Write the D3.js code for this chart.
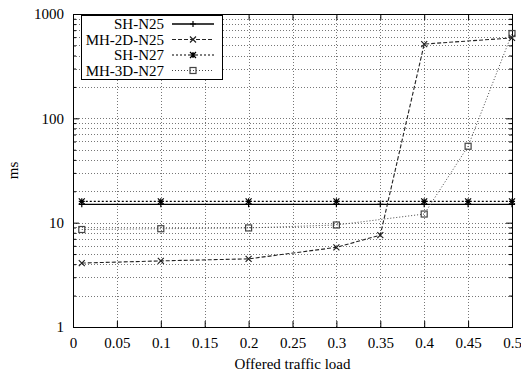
<!DOCTYPE html>
<html>
<head>
<meta charset="utf-8">
<script src="https://cdn.jsdelivr.net/npm/d3@7"></script>
<style>
  html, body { margin: 0; padding: 0; background: #fff; }
  svg { display: block; }
</style>
</head>
<body>
<svg id="chart" width="521" height="378"></svg>
<script>
// Offered load values (x) shared by all series
const loads = [0.01, 0.1, 0.2, 0.3, 0.35, 0.4, 0.45, 0.5];

// Delay in ms per configuration
const shN25    = [15.0, 15.0, 15.0, 15.0, 15.0, 15.0, 15.0, 15.0];
const mh2dN25  = [4.1, 4.3, 4.5, 5.8, 7.6, 515, null, 590];
const shN27    = [16.0, 16.0, 16.0, 16.0, null, 16.0, 16.0, 16.0];
const mh3dN27  = [8.6, 8.75, 8.9, 9.5, null, 12.1, 54, 650];

const seriesNames = ["SH-N25", "MH-2D-N25", "SH-N27", "MH-3D-N27"];
const xTicks = [0, 0.05, 0.1, 0.15, 0.2, 0.25, 0.3, 0.35, 0.4, 0.45, 0.5];
const yTicks = [1, 10, 100, 1000];

const FONT = "'Liberation Serif', 'Times New Roman', serif";
const FS = "15px";
const margin = { left: 73, right: 9, top: 14, bottom: 51 };
const W = 521, H = 378;
const x0 = margin.left, x1 = W - margin.right, y0 = margin.top, y1 = H - margin.bottom;

const svg = d3.select("#chart");
const x = d3.scaleLinear().domain([0, 0.5]).range([x0, x1]);
const y = d3.scaleLog().domain([1, 1000]).range([y1, y0]);

// minor log ticks
const minorY = [];
for (const d of [1, 10, 100]) for (let k = 2; k <= 9; k++) minorY.push(d * k);

// grid
const grid = svg.append("g").attr("stroke", "#777").attr("stroke-width", 1)
  .attr("stroke-dasharray", "1,2").attr("shape-rendering", "crispEdges");
xTicks.slice(1, -1).forEach(t => grid.append("line")
  .attr("x1", Math.round(x(t)) + 0.5).attr("x2", Math.round(x(t)) + 0.5)
  .attr("y1", y0).attr("y2", y1));
minorY.concat([10, 100]).forEach(t => grid.append("line")
  .attr("x1", x0).attr("x2", x1)
  .attr("y1", Math.round(y(t)) + 0.5).attr("y2", Math.round(y(t)) + 0.5));

// axes with inward ticks on all four sides
const axB = d3.axisBottom(x).tickValues(xTicks).tickSizeInner(-6).tickSizeOuter(0)
  .tickFormat(d => d3.format("")(d)).tickPadding(10);
const axT = d3.axisTop(x).tickValues(xTicks).tickSizeInner(-6).tickSizeOuter(0).tickFormat("");
const axL = d3.axisLeft(y).tickValues(yTicks).tickSizeInner(-6).tickSizeOuter(0)
  .tickFormat(d3.format("d")).tickPadding(9);
const axR = d3.axisRight(y).tickValues(yTicks).tickSizeInner(-6).tickSizeOuter(0).tickFormat("");
const axLm = d3.axisLeft(y).tickValues(minorY).tickSizeInner(-3).tickSizeOuter(0).tickFormat("");
const axRm = d3.axisRight(y).tickValues(minorY).tickSizeInner(-3).tickSizeOuter(0).tickFormat("");

function styleAxis(g) {
  g.select(".domain").remove();
  g.selectAll("line").attr("stroke", "#000");
  g.selectAll("text").style("font-size", FS).style("font-family", FONT).attr("fill", "#000");
}
svg.append("g").attr("transform", `translate(0,${y1})`).call(axB).call(styleAxis);
svg.append("g").attr("transform", `translate(0,${y0})`).call(axT).call(styleAxis);
svg.append("g").attr("transform", `translate(${x0},0)`).call(axL).call(styleAxis);
svg.append("g").attr("transform", `translate(${x1},0)`).call(axR).call(styleAxis);
svg.append("g").attr("transform", `translate(${x0},0)`).call(axLm).call(styleAxis);
svg.append("g").attr("transform", `translate(${x1},0)`).call(axRm).call(styleAxis);

// frame
svg.append("rect").attr("x", x0 + 0.5).attr("y", y0 + 0.5)
  .attr("width", x1 - x0).attr("height", y1 - y0)
  .attr("fill", "none").attr("stroke", "#000").attr("shape-rendering", "crispEdges");

// axis titles
svg.append("text").attr("x", (x0 + x1) / 2).attr("y", 369).attr("text-anchor", "middle")
  .style("font-family", FONT).style("font-size", FS).text("Offered traffic load");
svg.append("text").attr("transform", `translate(18,${(y0 + y1) / 2}) rotate(-90)`)
  .attr("text-anchor", "middle").style("font-family", FONT).style("font-size", FS).text("ms");

// marker glyphs
function marker(g, type, cx, cy, color) {
  const s = 3;
  const p = d3.path();
  if (type === "plus" || type === "star") {
    p.moveTo(cx - s, cy); p.lineTo(cx + s, cy);
    p.moveTo(cx, cy - s); p.lineTo(cx, cy + s);
  }
  if (type === "cross" || type === "star") {
    p.moveTo(cx - s, cy - s); p.lineTo(cx + s, cy + s);
    p.moveTo(cx - s, cy + s); p.lineTo(cx + s, cy - s);
  }
  if (type === "square") {
    g.append("rect").attr("x", cx - 3).attr("y", cy - 3).attr("width", 6).attr("height", 6)
      .attr("fill", "none").attr("stroke", color).attr("stroke-width", 1.2);
    return;
  }
  g.append("path").attr("d", p.toString()).attr("fill", "none")
    .attr("stroke", color).attr("stroke-width", 1.2);
}

const series = [
  { name: seriesNames[0], values: shN25,   dash: null,  color: "#000", width: 1.3, mk: "plus" },
  { name: seriesNames[1], values: mh2dN25, dash: "4,2", color: "#222", width: 1.1, mk: "cross" },
  { name: seriesNames[2], values: shN27,   dash: "2,2", color: "#000", width: 1.1, mk: "star" },
  { name: seriesNames[3], values: mh3dN27, dash: "1,2", color: "#444", width: 1.0, mk: "square" }
];

const line = d3.line().x(d => x(d[0])).y(d => y(d[1]));
const plot = svg.append("g");
series.forEach(s => {
  const pts = loads.map((l, i) => [l, s.values[i]]).filter(d => d[1] != null);
  plot.append("path").datum(pts).attr("d", line).attr("fill", "none")
    .attr("stroke", s.color).attr("stroke-width", s.width)
    .attr("stroke-dasharray", s.dash);
  pts.forEach(d => marker(plot, s.mk, x(d[0]), y(d[1]), s.color));
});

// legend
const lg = svg.append("g");
lg.append("rect").attr("x", 81.5).attr("y", 15.5).attr("width", 141).attr("height", 64)
  .attr("fill", "#fff").attr("stroke", "#000").attr("shape-rendering", "crispEdges");
series.forEach((s, i) => {
  const cy = 24 + i * 15.5;
  lg.append("text").attr("x", 164).attr("y", cy).attr("dy", "0.35em")
    .attr("text-anchor", "end").style("font-family", FONT).style("font-size", FS).text(s.name);
  lg.append("line").attr("x1", 172).attr("x2", 214).attr("y1", cy).attr("y2", cy)
    .attr("stroke", s.color).attr("stroke-width", s.width).attr("stroke-dasharray", s.dash);
  marker(lg, s.mk, 193, cy, s.color);
});
</script>
</body>
</html>
